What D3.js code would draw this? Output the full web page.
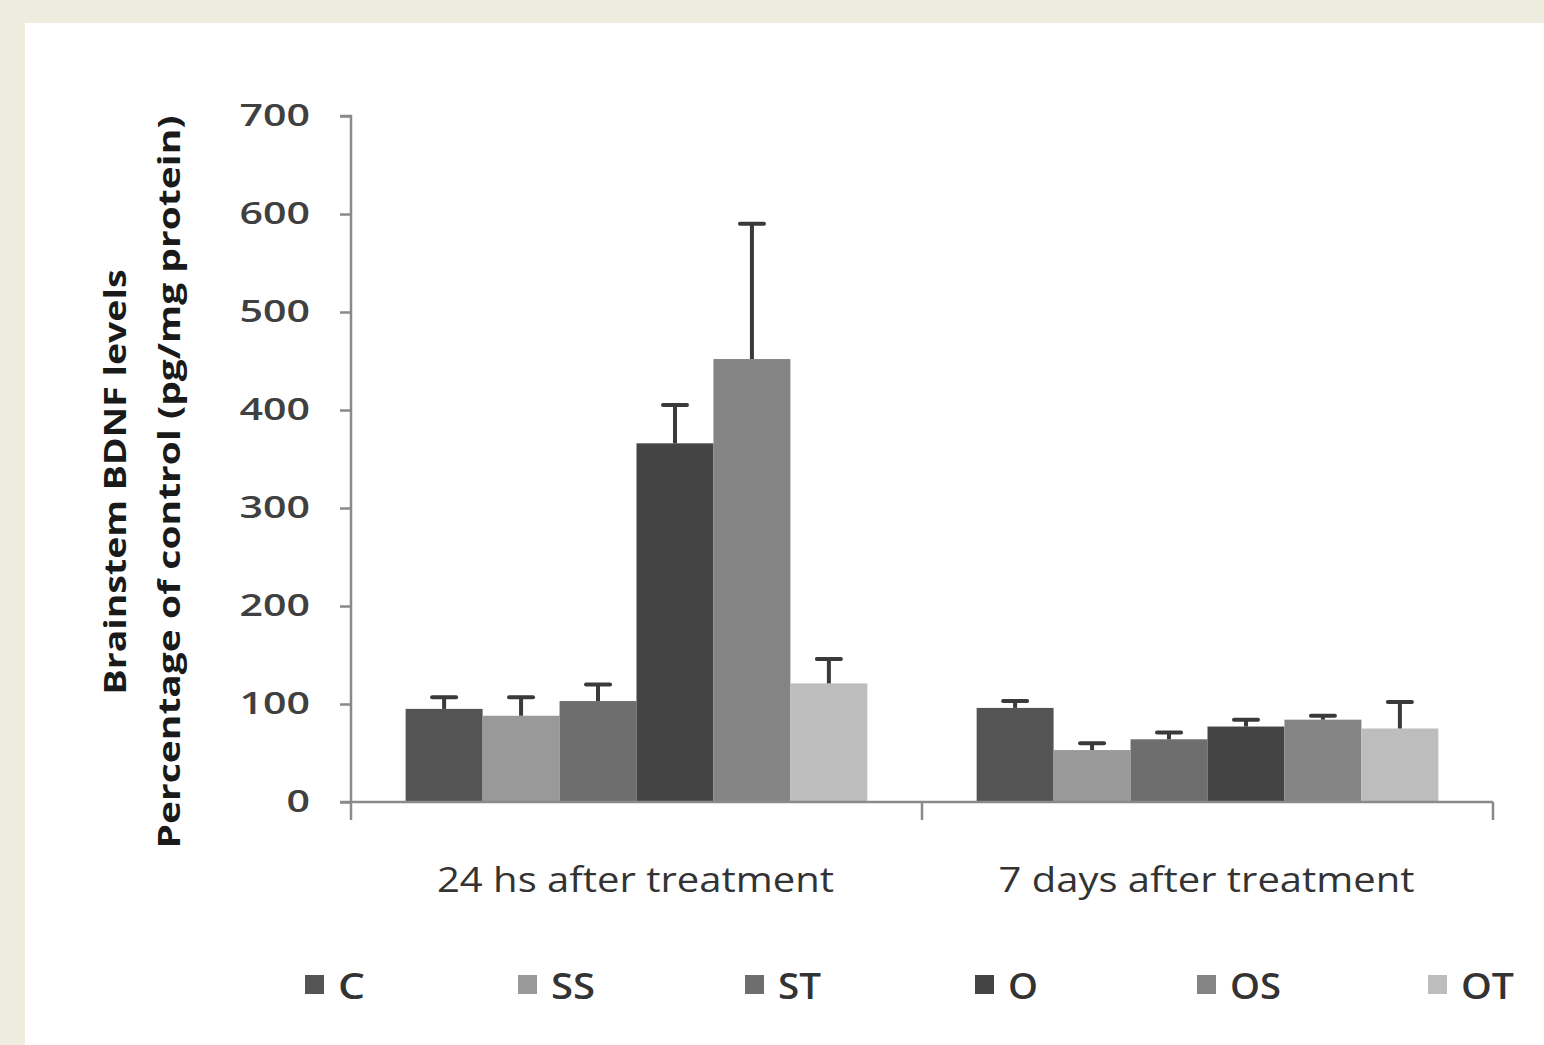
<!DOCTYPE html>
<html>
<head>
<meta charset="utf-8">
<script src="https://cdn.jsdelivr.net/npm/d3@7"></script>
<style>
  html, body { margin: 0; padding: 0; background: #eeebdf; }
  svg { display: block; }
</style>
</head>
<body>
<svg id="chart" width="1544" height="1045"></svg>
<script>
// Brainstem BDNF levels, percentage of control, by time point and group
const timepoints = ["24 hs after treatment", "7 days after treatment"];
const groups = ["C", "SS", "ST", "O", "OS", "OT"];
const groupColors = ["#545454", "#999999", "#6e6e6e", "#444444", "#848484", "#bdbdbd"];
const means24h = [95, 88, 103, 366, 452, 121];
const errors24h = [12, 19, 17, 39, 138, 25];
const means7d = [96, 53, 64, 77, 84, 75];
const errors7d = [7, 7, 7, 7, 4, 27];
const yTicks = [0, 100, 200, 300, 400, 500, 600, 700];

const seriesMeans = [means24h, means7d];
const seriesErrors = [errors24h, errors7d];

const svg = d3.select("#chart");
const font = "'Open Sans', 'Noto Sans', sans-serif";

// white plotting panel over the beige slide background
svg.append("rect").attr("x", 25).attr("y", 23).attr("width", 1544 - 25).attr("height", 1045 - 23).attr("fill", "#ffffff");

const plot = { left: 351, right: 1493, top: 116, bottom: 802 };

const y = d3.scaleLinear().domain([0, 700]).range([plot.bottom, plot.top]);
const x0 = d3.scaleBand().domain(timepoints).range([plot.left, plot.right]).paddingInner(0).paddingOuter(0);
const x1 = d3.scaleBand().domain(groups).range([0, x0.bandwidth()]).paddingOuter(0.71).paddingInner(0);

const axisColor = "#8a8a8a";

// bars and error bars
timepoints.forEach((tp, ti) => {
  const g = svg.append("g").attr("transform", `translate(${x0(tp)},0)`);
  const rows = groups.map((grp, i) => ({ grp, i, mean: seriesMeans[ti][i], err: seriesErrors[ti][i] }));
  g.selectAll("rect.bar").data(rows).join("rect")
    .attr("class", "bar")
    .attr("x", d => x1(d.grp))
    .attr("y", d => y(d.mean))
    .attr("width", x1.bandwidth())
    .attr("height", d => y(0) - y(d.mean))
    .attr("fill", d => groupColors[d.i]);
  const eb = g.selectAll("g.err").data(rows).join("g").attr("class", "err");
  eb.append("line")
    .attr("x1", d => x1(d.grp) + x1.bandwidth() / 2)
    .attr("x2", d => x1(d.grp) + x1.bandwidth() / 2)
    .attr("y1", d => y(d.mean))
    .attr("y2", d => y(d.mean + d.err))
    .attr("stroke", "#3a3a3a").attr("stroke-width", 4);
  eb.append("line")
    .attr("x1", d => x1(d.grp) + x1.bandwidth() / 2 - 12)
    .attr("x2", d => x1(d.grp) + x1.bandwidth() / 2 + 12)
    .attr("y1", d => y(d.mean + d.err))
    .attr("y2", d => y(d.mean + d.err))
    .attr("stroke", "#3a3a3a").attr("stroke-width", 4).attr("stroke-linecap", "round");
});

// y axis
const yAxis = d3.axisLeft(y).tickValues(yTicks).tickSize(11).tickPadding(30).tickFormat(d3.format("d"));
const yg = svg.append("g").attr("transform", `translate(${plot.left},0)`).call(yAxis);
yg.select(".domain").attr("stroke", axisColor).attr("stroke-width", 2.5).attr("d", `M-11,${plot.top}H0V${plot.bottom + 18}`);
yg.selectAll(".tick line").attr("stroke", axisColor).attr("stroke-width", 2.5);
yg.selectAll(".tick text")
  .attr("fill", "#404040")
  .attr("textLength", d => String(d).length * 23.5)
  .attr("lengthAdjust", "spacingAndGlyphs")
  .style("font-family", font).style("font-size", "30px").style("font-weight", 600);

// x axis with category dividers
const xg = svg.append("g").attr("transform", `translate(0,${plot.bottom})`);
xg.append("line").attr("x1", plot.left - 11).attr("x2", plot.right).attr("y1", 0).attr("y2", 0)
  .attr("stroke", axisColor).attr("stroke-width", 2.5);
const dividers = [x0(timepoints[1]), plot.right];
xg.selectAll("line.div").data(dividers).join("line").attr("class", "div")
  .attr("x1", d => d).attr("x2", d => d).attr("y1", 0).attr("y2", 18)
  .attr("stroke", axisColor).attr("stroke-width", 2.5);
const catWidths = [397, 416];
xg.selectAll("text.cat").data(timepoints).join("text").attr("class", "cat")
  .attr("x", d => x0(d) + x0.bandwidth() / 2 - 1)
  .attr("y", 90)
  .attr("text-anchor", "middle")
  .attr("textLength", (d, i) => catWidths[i])
  .attr("lengthAdjust", "spacingAndGlyphs")
  .attr("fill", "#333333")
  .style("font-family", font).style("font-size", "34px").style("font-weight", 500)
  .text(d => d);

// y axis title (two lines)
const titleLines = [
  { text: "Brainstem BDNF levels", x: 126, len: 425 },
  { text: "Percentage of control (pg/mg protein)", x: 180, len: 733 }
];
svg.selectAll("text.ytitle").data(titleLines).join("text").attr("class", "ytitle")
  .attr("transform", d => `translate(${d.x},482) rotate(-90)`)
  .attr("text-anchor", "middle")
  .attr("textLength", d => d.len)
  .attr("lengthAdjust", "spacingAndGlyphs")
  .attr("fill", "#1a1a1a")
  .style("font-family", font).style("font-size", "31px").style("font-weight", 700)
  .text(d => d.text);

// legend: entries laid out left to right
const legendOffsets = [305, 518, 745, 975, 1197, 1428];
const legendTextWidths = [27, 44, 43, 30, 51, 53];
const lg = svg.append("g").selectAll("g").data(groups).join("g")
  .attr("transform", (d, i) => `translate(${legendOffsets[i]},975)`);
lg.append("rect").attr("width", 19).attr("height", 19).attr("fill", (d, i) => groupColors[i]);
lg.append("text").attr("x", 33).attr("y", 24)
  .attr("fill", "#333333")
  .attr("textLength", (d, i) => legendTextWidths[i])
  .attr("lengthAdjust", "spacingAndGlyphs")
  .style("font-family", font).style("font-size", "36px").style("font-weight", 600)
  .text(d => d);
</script>
</body>
</html>
